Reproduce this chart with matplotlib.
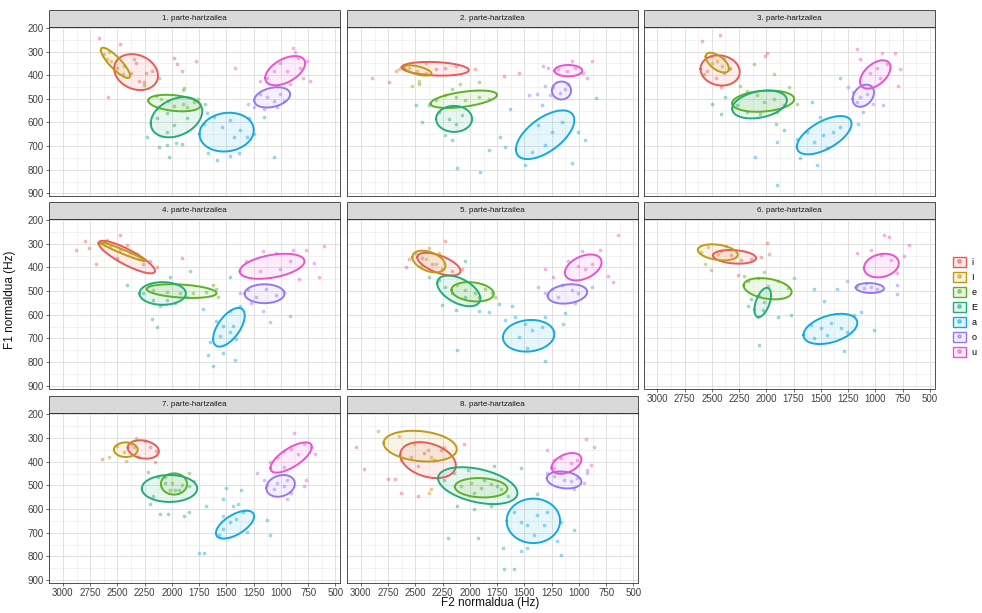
import matplotlib.pyplot as plt, numpy as np
from matplotlib.patches import Patch, Rectangle
from matplotlib.lines import Line2D
from matplotlib.colors import to_rgba

plt.rcParams['font.family'] = ['Liberation Sans', 'DejaVu Sans']

vowels = ['i', 'I', 'e', 'E', 'a', 'o', 'u']
colors = ['#EC5A55', '#C09A12', '#5BB224', '#22AC78', '#12A9E0', '#9676F5', '#EC52CF']
titles = ['%d. parte-hartzailea' % k for k in range(1, 9)]
x_ticks = [3000, 2750, 2500, 2250, 2000, 1750, 1500, 1250, 1000, 750, 500]
y_ticks = [200, 300, 400, 500, 600, 700, 800, 900]

# ellipse summary per vowel (same order as vowels): F2 centre, F1 centre, F2 half-width, F1 half-height, correlation
ell_1 = [(2329, 387, 201, 76, -0.2), (2518, 348, 134, 64, -0.85), (1978, 518, 240, 35, -0.3), (1958, 578, 236, 85, 0.3),
         (1498, 641, 249, 82, 0.1), (1080, 494, 165, 43, 0.3), (961, 381, 183, 62, 0.5)]
ell_2 = [(2318, 373, 308, 29, -0.2), (2478, 380, 126, 22, -0.6), (2056, 502, 305, 37, 0.5), (2145, 585, 165, 55, 0.0),
         (1310, 652, 268, 103, 0.6), (1160, 465, 88, 38, 0.0), (1097, 381, 128, 24, 0.0)]
ell_3 = [(2424, 380, 180, 64, -0.1), (2450, 347, 107, 42, -0.6), (2029, 510, 285, 45, 0.2), (2062, 524, 251, 59, 0.3),
         (1469, 654, 251, 81, 0.6), (1110, 487, 98, 47, 0.3), (1000, 397, 140, 60, 0.5)]
ell_4 = [(2414, 356, 259, 69, -0.85), (2452, 333, 205, 40, -0.97), (1911, 500, 320, 29, -0.3), (2085, 510, 213, 48, 0.0),
         (1477, 653, 145, 82, 0.6), (1150, 511, 183, 40, 0.0), (1081, 395, 297, 53, 0.4)]
ell_5 = [(2285, 386, 198, 48, -0.6), (2376, 375, 152, 46, -0.4), (1975, 503, 194, 41, -0.2), (2102, 499, 198, 65, -0.5),
         (1461, 689, 236, 67, 0.1), (1105, 512, 181, 41, 0.2), (960, 400, 168, 55, 0.4)]
ell_6 = [(2292, 355, 198, 29, -0.2), (2445, 336, 183, 34, -0.3), (1988, 490, 220, 45, -0.3), (2033, 548, 76, 62, 0.5),
         (1412, 660, 247, 64, 0.4), (1050, 487, 130, 21, -0.1), (944, 392, 160, 50, 0.2)]
ell_7 = [(2263, 348, 143, 39, -0.2), (2423, 349, 109, 31, 0.0), (1981, 494, 120, 45, 0.0), (2022, 513, 254, 57, 0.0),
         (1421, 666, 175, 59, 0.6), (1003, 502, 131, 46, 0.2), (906, 382, 190, 64, 0.7)]
ell_8 = [(2384, 393, 255, 76, -0.3), (2456, 334, 336, 65, -0.2), (1897, 510, 241, 41, -0.1), (1928, 501, 364, 78, -0.4),
         (1418, 650, 245, 94, 0.0), (1136, 477, 159, 36, -0.2), (1114, 407, 137, 44, 0.4)]

# measured tokens (F2, F1) per vowel
pts_1 = {'i': [(2667,242),(2478,267),(2347,333),(2378,389),(2256,430),(2180,382),(2301,424),(2240,390),(2330,350),(2585,493),(1982,326),(1957,354),(1783,340),(1906,382)],
         'I': [(2621,312),(2560,340),(2500,370),(2450,395),(2580,300),(2440,360),(2600,330)],
         'e': [(2256,440),(2100,500),(2040,510),(1980,530),(1900,520),(1860,535),(1800,515),(1896,463),(1890,456),(2118,413),(1760,500),(2150,490)],
         'E': [(2135,580),(2042,560),(1982,610),(1860,580),(2042,640),(2225,661),(2118,703),(2042,695),(2027,745),(1967,685),(1906,690),(2135,540),(1700,520)],
         'a': [(1701,605),(1616,577),(1540,619),(1463,590),(1372,633),(1433,660),(1463,741),(1585,759),(1671,731),(1387,731),(1311,660),(1296,580),(1250,647),(1159,577),(1067,745),(1680,560)],
         'o': [(1189,480),(1128,494),(1067,508),(1006,480),(976,508),(1037,535),(1159,542),(1250,535),(1300,520)],
         'u': [(1128,410),(1067,382),(1007,347),(946,382),(885,284),(824,368),(793,410),(839,326),(915,438),(763,340),(732,423),(1189,423),(870,300),(1418,368)]}
pts_2 = {'i': [(2681,382),(2406,347),(2224,368),(2132,361),(1950,375),(2894,410),(2742,430),(1690,405),(1553,389),(2315,375)],
         'I': [(2559,368),(2483,382),(2406,389),(2468,424),(2528,444),(2650,375)],
         'e': [(2315,507),(2224,486),(2132,493),(2041,507),(1919,493),(1828,500),(2163,458),(2087,437),(1919,430),(2468,437)],
         'E': [(2285,556),(2193,584),(2132,605),(2071,570),(2224,654),(2163,675),(2437,598),(2498,528),(2376,528)],
         'a': [(1828,717),(1721,661),(1675,703),(1630,542),(2117,794),(1904,808),(1492,780),(1431,724),(1310,696),(1249,640),(1371,612),(1157,598),(1005,640),(944,675),(847,498),(1066,773),(1340,528)],
         'o': [(1234,451),(1173,477),(1127,458),(1310,444),(1386,479),(1462,486),(1264,486),(1096,437)],
         'u': [(1325,361),(1188,375),(1112,382),(1036,368),(960,389),(884,340),(1066,340),(930,410),(1279,368)]}
pts_3 = {'i': [(2588,256),(2426,228),(2542,382),(2466,410),(2390,389),(2329,368),(1994,305),(2009,319),(2420,451),(2573,396)],
         'I': [(2512,319),(2451,340),(2405,361),(2497,347),(2390,326),(2344,375)],
         'e': [(2238,444),(2177,465),(2085,486),(2024,514),(1933,500),(1841,528),(1795,451),(1719,521),(1933,396),(2116,354)],
         'E': [(2268,528),(2177,556),(2055,563),(1902,556),(2420,563),(2497,521),(2375,493),(1908,605),(1841,633)],
         'a': [(1719,668),(1628,640),(1567,682),(1476,654),(1384,640),(1323,619),(1445,710),(1689,752),(1537,780),(1902,864),(2100,745),(1902,682),(1156,605),(1323,410),(1506,577),(1582,514)],
         'o': [(1201,472),(1141,493),(1080,479),(1171,514),(1110,556),(1019,521),(927,528),(1247,451)],
         'u': [(1171,291),(1049,389),(988,368),(958,410),(942,305),(821,305),(775,375),(897,354),(790,444),(1141,333)]}
pts_4 = {'i': [(2877,325),(2795,288),(2765,318),(2694,384),(2475,263),(2414,304),(2323,345),(2262,386),(2201,373),(2140,400),(2506,359),(1912,359)],
         'I': [(2658,297),(2566,311),(2475,325),(2384,338),(2292,359),(2597,284)],
         'e': [(2170,496),(2049,503),(1927,510),(1805,510),(1683,503),(1591,489),(1866,523),(1622,475),(1576,523)],
         'E': [(2262,510),(2170,537),(2109,564),(2049,537),(2201,468),(2414,475),(2186,619),(2140,653),(2018,441),(1973,551),(1835,414)],
         'a': [(1591,626),(1530,647),(1469,674),(1439,647),(1408,701),(1561,688),(1652,715),(1668,770),(1622,818),(1530,763),(1423,791),(1469,585),(1378,564),(1713,576),(1469,441)],
         'o': [(1302,496),(1226,523),(1134,489),(1043,516),(967,503),(1165,585),(1104,632),(921,605),(1378,510),(1271,551)],
         'u': [(1317,373),(1165,331),(1043,338),(921,373),(891,325),(769,325),(693,380),(830,448),(647,441),(601,311),(1195,414),(1012,407)]}
pts_5 = {'i': [(2559,366),(2437,359),(2346,386),(2254,407),(2163,414),(2071,407),(2224,290),(2589,400)],
         'I': [(2498,345),(2406,366),(2315,384),(2285,338),(2452,393),(2376,318)],
         'e': [(2117,475),(2041,496),(1950,510),(1858,489),(1919,523),(1797,510),(1767,523)],
         'E': [(2285,455),(2224,482),(2163,510),(2041,523),(2254,558),(2132,578),(2376,441),(2041,373)],
         'a': [(1675,624),(1584,610),(1492,638),(1431,665),(1340,652),(1310,610),(1553,693),(1477,741),(1310,796),(2117,749),(1919,583),(1736,556),(1614,563),(1142,638),(1127,594),(1828,590)],
         'o': [(1249,489),(1157,475),(1066,496),(1005,510),(1188,523),(1036,551),(1310,510),(1371,482),(883,482)],
         'u': [(1097,373),(1005,393),(944,407),(883,386),(975,332),(807,325),(731,434),(685,462),(639,263),(1310,407),(1234,441)]}
pts_6 = {'i': [(2414,329),(2323,349),(2231,370),(2140,363),(2049,356),(1994,295),(1979,342),(2262,432)],
         'I': [(2597,336),(2536,315),(2445,342),(2567,384),(2506,411),(2369,308)],
         'e': [(2170,459),(2079,445),(1988,479),(1896,459),(1805,486),(1744,445),(2018,418),(2201,438)],
         'E': [(2064,521),(2018,548),(2033,582),(2079,610),(2170,562),(2140,534),(2064,726),(1896,610),(1775,603)],
         'a': [(1591,644),(1500,658),(1408,637),(1317,658),(1256,671),(1439,685),(1561,699),(1287,753),(1561,493),(1469,541),(1348,493),(1195,603),(1134,589),(1012,664),(1089,466)],
         'o': [(1165,479),(1104,486),(1043,482),(982,493),(1256,459),(799,473),(799,514)],
         'u': [(1043,326),(951,346),(860,367),(921,264),(875,271),(738,353),(692,305),(1165,340),(799,425)]}
pts_7 = {'i': [(2345,339),(2251,311),(2204,339),(2142,353),(2314,380),(2158,401),(2641,387)],
         'I': [(2501,332),(2438,359),(2423,397),(2376,325),(2579,380),(2329,298)],
         'e': [(2064,463),(2002,490),(1970,518),(1908,497),(2017,518),(1845,449),(1799,483)],
         'E': [(2220,442),(2126,463),(2064,490),(1939,518),(1845,504),(2204,580),(2111,621),(2033,621),(2173,545),(1845,614),(1892,628)],
         'a': [(1534,628),(1471,655),(1409,641),(1347,614),(1534,683),(1752,786),(1705,786),(1690,586),(1440,586),(1393,580),(1315,696),(1128,648),(1502,511),(1534,559),(1362,518),(1097,710),(1565,710)],
         'o': [(1035,490),(972,504),(910,531),(941,476),(1128,497),(1159,476),(1222,449),(941,559),(1066,517)],
         'u': [(1035,380),(972,353),(910,346),(847,366),(785,325),(878,277),(722,339),(1097,401),(972,421),(785,504),(769,476),(691,366)]}
pts_8 = {'i': [(2633,393),(2542,379),(2419,365),(2328,393),(2267,352),(2480,420),(2756,473),(2688,473),(2480,544),(2633,531),(2053,324),(2969,432),(3046,338)],
         'I': [(2847,269),(2649,290),(2511,324),(2389,352),(2358,379),(2236,338),(2358,517),(2374,531)],
         'e': [(2083,503),(1992,490),(1900,510),(1808,496),(1716,517),(1961,531)],
         'E': [(2236,476),(2144,448),(2022,434),(1869,476),(1747,503),(1655,544),(2114,586),(1961,600),(1808,586),(2205,724),(1930,724),(1533,427),(1778,420)],
         'a': [(1594,613),(1533,655),(1472,669),(1380,627),(1319,669),(1289,613),(1411,710),(1533,779),(1472,765),(1686,855),(1594,855),(1701,765),(1167,655),(1044,689),(1167,793),(1197,737),(1380,538)],
         'o': [(1228,462),(1136,476),(1075,483),(1014,469),(1044,517),(953,489),(1289,448),(922,448)],
         'u': [(1228,393),(1167,386),(1075,407),(1014,393),(1289,352),(937,303),(861,338),(891,414),(922,434),(1228,427)]}

ells = [ell_1, ell_2, ell_3, ell_4, ell_5, ell_6, ell_7, ell_8]
pts = [pts_1, pts_2, pts_3, pts_4, pts_5, pts_6, pts_7, pts_8]

W, H = 982, 613
fig = plt.figure(figsize=(W / 100, H / 100), dpi=100)
col_left = [49.3, 347.3, 643.7]
row_top = [26.7, 219.0, 413.3]
pw, ph = 291, 169.5
strip_h = 17.0
t = np.linspace(0, 2 * np.pi, 200)

for k in range(8):
    r, c = divmod(k, 3)
    ax = fig.add_axes([col_left[c] / W, 1 - (row_top[r] + ph) / H, pw / W, ph / H])
    for v, col in zip(vowels, colors):
        p = np.array(pts[k][v])
        ax.scatter(p[:, 0], p[:, 1], s=7, color=col, alpha=0.45, linewidths=0, zorder=2)
    for (cx, cy, sx, sy, rho), col in zip(ells[k], colors):
        ex = cx + sx * np.cos(t)
        ey = cy + sy * (rho * np.cos(t) + np.sqrt(1 - rho ** 2) * np.sin(t))
        ax.fill(ex, ey, color=col, alpha=0.1, lw=0, zorder=3)
        ax.plot(ex, ey, color=col, lw=1.4, zorder=4)
    ax.set_xlim(3115, 455)
    ax.set_ylim(912, 195)
    ax.set_xticks(x_ticks)
    ax.set_yticks(y_ticks)
    ax.set_xticks(np.arange(3125, 400, -125), minor=True)
    ax.set_yticks(np.arange(250, 950, 50), minor=True)
    ax.grid(which='major', color='#DCDCDC', lw=0.6)
    ax.grid(which='minor', color='#EBEBEB', lw=0.45)
    ax.set_axisbelow(True)
    for s in ax.spines.values():
        s.set_color('#333333')
        s.set_linewidth(0.6)
    ax.tick_params(which='major', length=2.5, width=0.5, color='#333333', labelsize=7,
                   labelcolor='#404040', pad=1.5)
    ax.tick_params(which='minor', length=0)
    show_x = r == 2 or (r == 1 and c == 2)
    show_y = c == 0
    ax.tick_params(axis='x', bottom=show_x, labelbottom=show_x)
    ax.tick_params(axis='y', left=show_y, labelleft=show_y)
    ax.add_patch(Rectangle((0, 1), 1, strip_h / ph, transform=ax.transAxes, clip_on=False,
                           facecolor='#D9D9D9', edgecolor='#333333', lw=0.6))
    ax.text(0.5, 1 + strip_h / ph / 2, titles[k], transform=ax.transAxes, ha='center', va='center',
            fontsize=5.8, color='#1A1A1A')

fig.text(490 / W, 1 - 603 / H, 'F2 normaldua (Hz)', ha='center', va='center', fontsize=8.5, color='#111111')
fig.text(10 / W, 1 - 300 / H, 'F1 normaldua (Hz)', ha='center', va='center', rotation=90, fontsize=8.5,
         color='#111111')

handles = [(Patch(facecolor=to_rgba(col, 0.12), edgecolor=col, lw=1.0),
            Line2D([], [], marker='o', ls='', color=col, alpha=0.5, markersize=2.5)) for col in colors]
fig.legend(handles, vowels, loc='center left', bbox_to_anchor=(948 / W, 1 - 307 / H), frameon=False,
           fontsize=6.5, handlelength=1.5, handleheight=1.4, labelspacing=0.5, handletextpad=0.6,
           borderpad=0)

fig.savefig('out.png', dpi=100)
